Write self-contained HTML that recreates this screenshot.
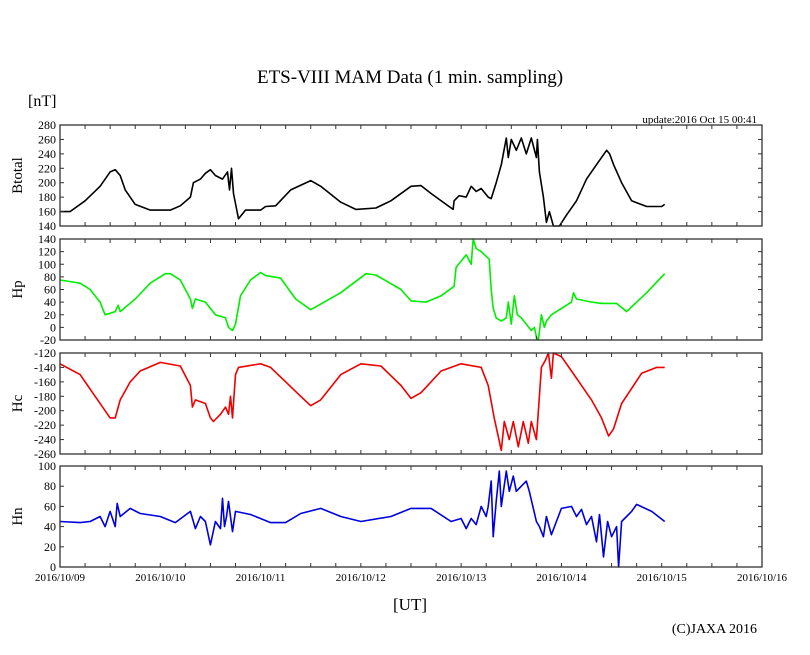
<!DOCTYPE html>
<html><head><meta charset="utf-8">
<style>
html,body{margin:0;padding:0;background:#fff;}
svg{display:block;font-family:"Liberation Serif",serif;}
</style></head>
<body>
<svg id="chart" width="810" height="655" viewBox="0 0 810 655">
<text x="410" y="83" font-size="19" text-anchor="middle">ETS-VIII MAM Data (1 min. sampling)</text>
<text x="28" y="106" font-size="16">[nT]</text>
<text x="757" y="123" font-size="11" text-anchor="end">update:2016 Oct 15 00:41</text>
<text x="410" y="610" font-size="17" text-anchor="middle">[UT]</text>
<text x="757" y="633" font-size="14" text-anchor="end">(C)JAXA 2016</text>
</svg>
<script>
// x positions in days since 2016/10/09 00:00
const xTickLabels = ["2016/10/09","2016/10/10","2016/10/11","2016/10/12","2016/10/13","2016/10/14","2016/10/15","2016/10/16"];
const btT = [0,.10,.25,.40,.50,.55,.60,.65,.75,.90,1.10,1.20,1.30,1.33,1.40,1.45,1.50,1.55,1.62,1.67,1.69,1.71,1.73,1.78,1.85,2.00,2.05,2.15,2.30,2.50,2.60,2.80,2.95,3.15,3.30,3.50,3.60,3.70,3.85,3.92,3.93,3.98,4.05,4.10,4.15,4.20,4.27,4.30,4.35,4.40,4.45,4.47,4.50,4.55,4.60,4.65,4.70,4.75,4.76,4.78,4.82,4.85,4.88,4.92,4.98,5.05,5.15,5.25,5.35,5.45,5.48,5.52,5.60,5.70,5.85,6.00,6.03];
const btV = [160,160,175,195,215,218,210,190,170,162,162,168,180,200,205,213,218,210,205,215,190,220,185,150,162,162,167,168,190,203,195,173,163,165,175,195,196,185,170,163,175,182,180,195,188,192,180,178,200,225,262,235,260,245,262,240,262,235,260,215,180,145,160,140,140,155,175,205,225,245,240,225,200,175,167,167,170];
const hpT = [0,.20,.30,.40,.45,.55,.58,.60,.75,.90,1.05,1.10,1.20,1.30,1.32,1.35,1.45,1.55,1.65,1.68,1.72,1.75,1.80,1.90,2.00,2.05,2.20,2.35,2.50,2.80,3.05,3.15,3.40,3.50,3.65,3.80,3.93,3.95,4.00,4.05,4.10,4.12,4.15,4.20,4.28,4.30,4.32,4.35,4.40,4.45,4.47,4.50,4.53,4.56,4.60,4.65,4.70,4.73,4.75,4.77,4.80,4.83,4.85,4.90,5.00,5.10,5.12,5.15,5.30,5.40,5.55,5.65,5.85,6.03];
const hpV = [75,70,60,40,20,25,35,25,45,70,85,85,75,45,30,45,40,20,15,0,-5,5,50,75,87,82,78,45,28,55,85,83,60,42,40,50,65,95,105,115,100,140,125,120,108,60,30,15,10,15,40,5,50,20,15,5,-5,0,-15,-20,20,0,10,20,30,40,55,45,40,38,38,25,55,85];
const hcT = [0,.20,.35,.45,.50,.55,.58,.60,.70,.80,1.00,1.20,1.30,1.32,1.35,1.45,1.50,1.53,1.60,1.65,1.68,1.70,1.72,1.75,1.78,2.00,2.10,2.40,2.50,2.60,2.80,3.00,3.20,3.40,3.50,3.60,3.80,4.00,4.20,4.27,4.33,4.40,4.43,4.48,4.52,4.57,4.62,4.67,4.70,4.75,4.77,4.80,4.84,4.87,4.90,4.92,5.00,5.10,5.30,5.40,5.47,5.52,5.60,5.80,5.95,6.03];
const hcV = [-135,-150,-180,-200,-210,-210,-195,-185,-160,-145,-133,-138,-165,-195,-185,-190,-210,-215,-205,-195,-205,-180,-210,-150,-140,-135,-140,-180,-193,-185,-150,-135,-138,-165,-183,-175,-145,-135,-140,-165,-210,-255,-215,-240,-215,-250,-215,-245,-215,-240,-200,-140,-130,-120,-155,-120,-125,-145,-185,-210,-235,-225,-190,-148,-140,-140];
const hnT = [0,.20,.30,.40,.45,.50,.55,.57,.60,.70,.80,1.00,1.15,1.30,1.35,1.40,1.45,1.50,1.55,1.60,1.62,1.64,1.66,1.68,1.72,1.75,1.90,2.10,2.25,2.40,2.60,2.80,3.00,3.30,3.50,3.70,3.90,4.00,4.05,4.10,4.15,4.20,4.25,4.27,4.30,4.32,4.35,4.38,4.40,4.45,4.48,4.52,4.55,4.60,4.65,4.68,4.75,4.78,4.82,4.85,4.90,4.95,5.00,5.10,5.15,5.20,5.25,5.30,5.35,5.38,5.42,5.46,5.50,5.55,5.57,5.60,5.65,5.70,5.75,5.90,6.03];
const hnV = [45,44,45,50,40,55,40,63,50,58,53,50,44,55,38,50,45,22,45,38,68,40,50,65,35,55,52,44,44,53,58,50,45,50,58,58,45,48,38,48,42,60,50,60,85,30,65,95,60,95,75,90,75,80,85,75,45,40,30,50,32,45,58,60,50,57,42,50,25,52,10,45,30,40,0,45,50,55,62,55,45];
const yTicks = {bt:[140,160,180,200,220,240,260,280], hp:[-20,0,20,40,60,80,100,120,140], hc:[-260,-240,-220,-200,-180,-160,-140,-120], hn:[0,20,40,60,80,100]};

const svg = document.getElementById('chart');
const NS = 'http://www.w3.org/2000/svg';
const L = 60, R = 762, DAYS = 7, PH = 101;
const xs = d => L + d * (R - L) / DAYS;
function mk(tag, attrs) { const e = document.createElementNS(NS, tag); for (const k in attrs) e.setAttribute(k, attrs[k]); svg.appendChild(e); return e; }

const panels = [
  {key:'bt', name:'Btotal', top:125, T:btT, V:btV, color:'#000000', min:140, max:280},
  {key:'hp', name:'Hp', top:239, T:hpT, V:hpV, color:'#00ee00', min:-20, max:140},
  {key:'hc', name:'Hc', top:353, T:hcT, V:hcV, color:'#ee0000', min:-260, max:-120},
  {key:'hn', name:'Hn', top:466, T:hnT, V:hnV, color:'#0000dd', min:0, max:100}
];

panels.forEach(p => {
  const ys = v => p.top + PH - (v - p.min) / (p.max - p.min) * PH;
  let d = '';
  p.T.forEach((t, i) => { d += (i ? 'L' : 'M') + xs(t).toFixed(1) + ' ' + ys(p.V[i]).toFixed(1); });
  const line = mk('path', {d: d, fill: 'none', stroke: p.color, 'stroke-width': 1.6, 'stroke-linejoin': 'round'});
  
  
  const fr = mk('rect', {x: L, y: p.top, width: R - L, height: PH, fill: 'none', stroke: '#333', 'stroke-width': 1.3});
  
  
  yTicks[p.key].forEach(v => {
    const y = ys(v);
    const t1 = mk('line', {x1: L, x2: L + 4, y1: y, y2: y, stroke: '#333'});
    
    
    const t2 = mk('line', {x1: R - 4, x2: R, y1: y, y2: y, stroke: '#333'});
    
    
    const lb = mk('text', {x: L - 4, y: y + 4, 'font-size': 12, 'text-anchor': 'end'});
    lb.textContent = v;
    
    
  });
  for (let q = 0; q <= DAYS * 4; q++) {
    const x = xs(q / 4);
    const a = mk('line', {x1: x, x2: x, y1: p.top + PH, y2: p.top + PH - 4, stroke: '#333'});
    
    
    const b = mk('line', {x1: x, x2: x, y1: p.top, y2: p.top + 4, stroke: '#333'});
    
    
  }
  const cy = p.top + PH / 2;
  const tt = mk('text', {x: 22, y: cy, 'font-size': 15, 'text-anchor': 'middle', transform: 'rotate(-90 22 ' + cy + ')'});
  tt.textContent = p.name;
  
  
});

xTickLabels.forEach((s, i) => {
  const t = mk('text', {x: xs(i), y: 581, 'font-size': 11, 'text-anchor': 'middle'});
  t.textContent = s;
  
  
});
</script>
</body></html>
